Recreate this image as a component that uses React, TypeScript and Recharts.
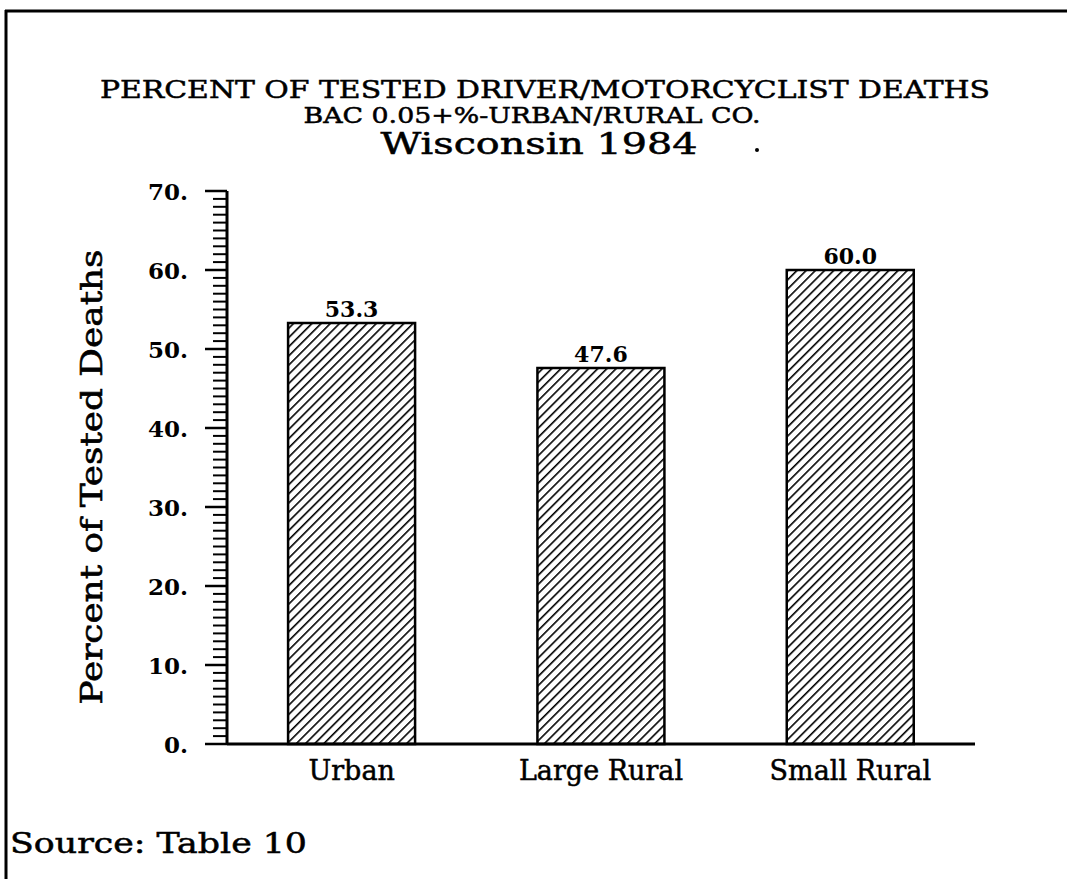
import React from "react";
import { BarChart, Bar, XAxis, YAxis, LabelList } from "recharts";

const categories = ["Urban", "Large Rural", "Small Rural"];
const values = [53.3, 47.6, 60.0];
const yTicks = Array.from({ length: 71 }, (_, i) => i);
const titleLines = [
  "PERCENT OF TESTED DRIVER/MOTORCYCLIST DEATHS",
  "BAC 0.05+%-URBAN/RURAL CO.",
  "Wisconsin 1984",
];
const yLabel = "Percent of Tested Deaths";
const sourceText = "Source: Table 10";

const data = categories.map((c, i) => ({ category: c, value: values[i] }));

const FONT = "'DejaVu Serif', serif";

function YTick(props: any) {
  const { x, y, payload } = props;
  const v = payload.value as number;
  const major = v % 10 === 0;
  return (
    <g>
      <line
        x1={x - (major ? 22 : 14)}
        x2={x}
        y1={y}
        y2={y}
        stroke="#000"
        strokeWidth={major ? 2.5 : 2}
      />
      {major && (
        <text
          x={x - 39}
          y={y}
          textAnchor="end"
          dominantBaseline="central"
          fontFamily={FONT}
          fontWeight="bold"
          fontSize={23}
          fill="#000"
        >
          {v + "."}
        </text>
      )}
    </g>
  );
}

function XTick(props: any) {
  const { x, y, payload } = props;
  return (
    <text
      x={x}
      y={y + 26}
      textAnchor="middle"
      dominantBaseline="central"
      fontFamily={FONT}
      fontSize={27}
      stroke="#000"
      strokeWidth={0.5}
      fill="#000"
    >
      {payload.value}
    </text>
  );
}

export default function App() {
  return (
    <div style={{ position: "absolute", left: 0, top: 0, width: 1067, height: 879, background: "#fff" }}>
      <BarChart
        width={1067}
        height={879}
        data={data}
        margin={{ top: 191, right: 92, bottom: 0, left: 0 }}
        barCategoryGap="24.5%"
      >
        <defs>
          <pattern
            id="hatch"
            patternUnits="userSpaceOnUse"
            width={6.5}
            height={6.5}
            patternTransform="rotate(45)"
          >
            <rect width={6.5} height={6.5} fill="#fff" />
            <line x1={0} y1={0} x2={0} y2={6.5} stroke="#000" strokeWidth={3.2} />
          </pattern>
        </defs>
        <XAxis
          dataKey="category"
          xAxisId="bottom"
          height={135}
          tickSize={0}
          tickMargin={0}
          tick={<XTick />}
          axisLine={{ stroke: "#000", strokeWidth: 3 }}
          tickLine={false}
        />
        <XAxis
          dataKey="category"
          xAxisId="top"
          orientation="top"
          height={0}
          tick={false}
          axisLine={{ stroke: "#000", strokeWidth: 2.5 }}
          tickLine={false}
        />
        <YAxis
          yAxisId="left"
          width={227}
          domain={[0, 70]}
          ticks={yTicks}
          interval={0}
          tickSize={0}
          tickMargin={0}
          tick={<YTick />}
          tickLine={false}
          axisLine={{ stroke: "#000", strokeWidth: 3 }}
        />
        <YAxis
          yAxisId="right"
          orientation="right"
          width={0}
          domain={[0, 70]}
          tick={false}
          tickLine={false}
          axisLine={{ stroke: "#000", strokeWidth: 2.5 }}
        />
        <Bar
          dataKey="value"
          xAxisId="bottom"
          yAxisId="left"
          fill="url(#hatch)"
          stroke="#000"
          strokeWidth={2.5}
          isAnimationActive={false}
        >
          <LabelList
            dataKey="value"
            position="top"
            offset={6}
            formatter={(v: any) => Number(v).toFixed(1)}
            style={{ fontFamily: FONT, fontWeight: "bold", fontSize: 22, fill: "#000" }}
          />
        </Bar>
      </BarChart>
      <svg
        width={1067}
        height={879}
        style={{ position: "absolute", left: 0, top: 0, pointerEvents: "none" }}
      >
        <line x1={5} y1={11} x2={1067} y2={11} stroke="#000" strokeWidth={3} />
        <line x1={6} y1={10} x2={6} y2={879} stroke="#000" strokeWidth={3} />
        <text
          x={545}
          y={98}
          textAnchor="middle"
          fontFamily={FONT}
          fontSize={25}
          textLength={890}
          lengthAdjust="spacingAndGlyphs"
          stroke="#000"
          strokeWidth={0.5}
          fill="#000"
        >
          {titleLines[0]}
        </text>
        <text
          x={532}
          y={123}
          textAnchor="middle"
          fontFamily={FONT}
          fontSize={22}
          textLength={457}
          lengthAdjust="spacingAndGlyphs"
          stroke="#000"
          strokeWidth={0.5}
          fill="#000"
        >
          {titleLines[1]}
        </text>
        <text
          x={539}
          y={154}
          textAnchor="middle"
          fontFamily={FONT}
          fontSize={29}
          textLength={317}
          lengthAdjust="spacingAndGlyphs"
          stroke="#000"
          strokeWidth={0.5}
          fill="#000"
        >
          {titleLines[2]}
        </text>
        <circle cx={757} cy={150} r={2} fill="#000" />
        <text
          x={0}
          y={0}
          transform="translate(102,477) rotate(-90)"
          textAnchor="middle"
          fontFamily={FONT}
          fontSize={30}
          textLength={455}
          lengthAdjust="spacingAndGlyphs"
          stroke="#000"
          strokeWidth={0.6}
          fill="#000"
        >
          {yLabel}
        </text>
        <text
          x={10}
          y={853}
          fontFamily={FONT}
          fontSize={27}
          textLength={297}
          lengthAdjust="spacingAndGlyphs"
          stroke="#000"
          strokeWidth={0.5}
          fill="#000"
        >
          {sourceText}
        </text>
      </svg>
    </div>
  );
}
